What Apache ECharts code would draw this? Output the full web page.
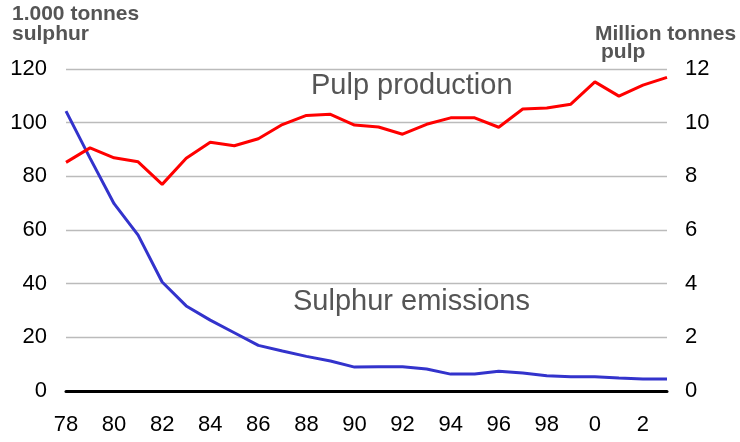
<!DOCTYPE html>
<html>
<head>
<meta charset="utf-8">
<script src="https://cdn.jsdelivr.net/npm/echarts@6/dist/echarts.min.js"></script>
<style>html,body{margin:0;padding:0;background:#fff}#c{width:740px;height:442px}</style>
</head>
<body>
<div id="c"></div>
<script>
var years = ['78','79','80','81','82','83','84','85','86','87','88','89','90','91','92','93','94','95','96','97','98','99','0','1','2','3'];
var pulpProduction = [8.52,9.06,8.69,8.54,7.70,8.67,9.27,9.14,9.40,9.93,10.27,10.31,9.91,9.84,9.57,9.94,10.18,10.18,9.83,10.51,10.55,10.69,11.52,10.99,11.40,11.69];
var sulphurEmissions = [104.3,86.8,69.8,58.1,40.6,31.7,26.4,21.7,17.0,14.9,12.9,11.2,8.9,9.0,9.0,8.2,6.3,6.3,7.4,6.7,5.7,5.3,5.3,4.8,4.5,4.5];
var leftTicks = [0,20,40,60,80,100,120];
var rightTicks = [0,2,4,6,8,10,12];

var font = 'Liberation Sans, Arial, sans-serif';
var chart = echarts.init(document.getElementById('c'));
chart.setOption({
  animation: false,
  grid: {left: 66, right: 73, top: 69, bottom: 51, containLabel: false},
  xAxis: {
    type: 'category', data: years, boundaryGap: false,
    axisLine: {show: true, lineStyle: {color: '#000', width: 3}},
    axisTick: {show: false},
    axisLabel: {interval: 1, color: '#000', fontSize: 22, fontFamily: font, margin: 23}
  },
  yAxis: [{
    type: 'value', min: leftTicks[0], max: leftTicks[leftTicks.length-1], interval: 20,
    axisLine: {show: false}, axisTick: {show: false},
    axisLabel: {color: '#000', fontSize: 22, fontFamily: font, margin: 19},
    splitLine: {lineStyle: {color: '#bbbbbb', width: 1.3}}
  }, {
    type: 'value', min: rightTicks[0], max: rightTicks[rightTicks.length-1], interval: 2,
    axisLine: {show: false}, axisTick: {show: false},
    axisLabel: {color: '#000', fontSize: 22, fontFamily: font, margin: 18},
    splitLine: {show: false}
  }],
  series: [{
    name: 'Sulphur emissions', type: 'line', yAxisIndex: 0, data: sulphurEmissions,
    symbol: 'none', lineStyle: {color: '#3333cc', width: 3}, z: 3
  }, {
    name: 'Pulp production', type: 'line', yAxisIndex: 1, data: pulpProduction,
    symbol: 'none', lineStyle: {color: '#ff0000', width: 3}, z: 4
  }],
  graphic: [
    {type: 'text', left: 12, top: 4, style: {text: '1.000 tonnes\nsulphur', fill: '#555', font: 'bold 21px ' + font, lineHeight: 20}},
    {type: 'text', left: 595, top: 24, style: {text: 'Million tonnes', fill: '#555', font: 'bold 21px ' + font}},
    {type: 'text', left: 601, top: 42, style: {text: 'pulp', fill: '#555', font: 'bold 21px ' + font}},
    {type: 'text', left: 311, top: 71, style: {text: 'Pulp production', fill: '#555', font: '29px ' + font}},
    {type: 'text', left: 293, top: 287, style: {text: 'Sulphur emissions', fill: '#555', font: '29px ' + font}}
  ]
});
</script>
</body>
</html>
